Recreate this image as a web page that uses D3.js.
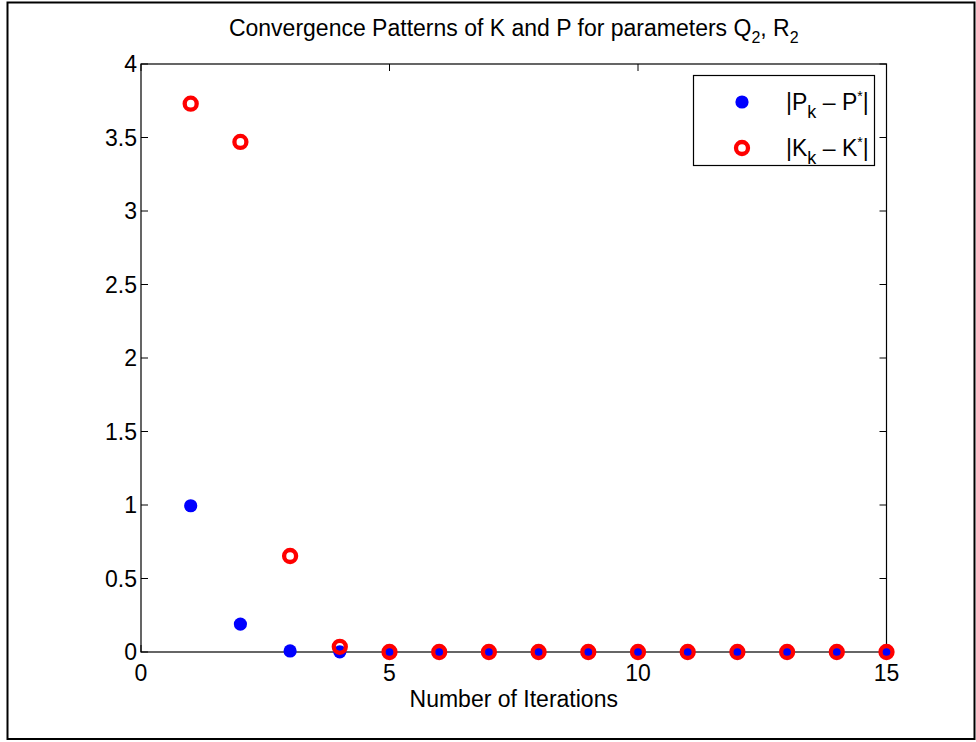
<!DOCTYPE html>
<html><head><meta charset="utf-8">
<script src="https://cdn.jsdelivr.net/npm/d3@7"></script>
<style>body{margin:0;background:#fff;} text{font-family:"Liberation Sans",Arial,Helvetica,sans-serif;fill:#000;}</style>
</head><body>
<script>
const iterations = [1,2,3,4,5,6,7,8,9,10,11,12,13,14,15];
const pError = [0.995,0.19,0.007,0.001,0,0,0,0,0,0,0,0,0,0,0];
const kError = [3.73,3.47,0.653,0.035,0,0,0,0,0,0,0,0,0,0,0];
const xTicks = [0,5,10,15];
const yTicks = [0,0.5,1,1.5,2,2.5,3,3.5,4];
const yTickLabels = ["0","0.5","1","1.5","2","2.5","3","3.5","4"];

const W=976,H=742;
const svg=d3.select("body").append("svg").attr("width",W).attr("height",H);
svg.append("rect").attr("x",7.5).attr("y",2.5).attr("width",967).attr("height",736.5)
  .attr("fill","#fff").attr("stroke","#000").attr("stroke-width",2);

const L=141,R=886.5,T=64,B=652;
const x=d3.scaleLinear().domain([0,15]).range([L,R]);
const y=d3.scaleLinear().domain([0,4]).range([B,T]);
const fs=23, tl=7;

const g=svg.append("g");
g.append("rect").attr("x",L).attr("y",T).attr("width",R-L).attr("height",B-T)
  .attr("fill","none").attr("stroke","#000").attr("stroke-width",1.2);
xTicks.forEach(t=>{
  g.append("line").attr("x1",x(t)).attr("x2",x(t)).attr("y1",B).attr("y2",B-tl).attr("stroke","#000");
  g.append("line").attr("x1",x(t)).attr("x2",x(t)).attr("y1",T).attr("y2",T+tl).attr("stroke","#000");
  g.append("text").attr("x",x(t)).attr("y",B+29).attr("text-anchor","middle").attr("font-size",fs).text(t);
});
yTicks.forEach((t,i)=>{
  g.append("line").attr("x1",L).attr("x2",L+tl).attr("y1",y(t)).attr("y2",y(t)).attr("stroke","#000");
  g.append("line").attr("x1",R).attr("x2",R-tl).attr("y1",y(t)).attr("y2",y(t)).attr("stroke","#000");
  g.append("text").attr("x",L-4).attr("y",y(t)+8).attr("text-anchor","end").attr("font-size",fs).text(yTickLabels[i]);
});
g.append("text").attr("x",(L+R)/2).attr("y",707).attr("text-anchor","middle").attr("font-size",fs).text("Number of Iterations");
const tt=g.append("text").attr("x",(L+R)/2).attr("y",36).attr("text-anchor","middle").attr("font-size",fs);
tt.append("tspan").text("Convergence Patterns of K and P for parameters Q");
tt.append("tspan").attr("dy",7).attr("font-size",16).text("2");
tt.append("tspan").attr("dy",-7).text(", R");
tt.append("tspan").attr("dy",7).attr("font-size",16).text("2");

g.selectAll(".p").data(iterations).enter().append("circle")
  .attr("cx",d=>x(d)).attr("cy",(d,i)=>y(pError[i])).attr("r",6.6).attr("fill","#0000ff");
g.selectAll(".k").data(iterations).enter().append("circle")
  .attr("cx",d=>x(d)).attr("cy",(d,i)=>y(kError[i])).attr("r",6).attr("fill","none")
  .attr("stroke","#ff0000").attr("stroke-width",4.3);

const lg=g.append("g");
lg.append("rect").attr("x",693.5).attr("y",75.5).attr("width",181).attr("height",90)
  .attr("fill","#fff").attr("stroke","#000").attr("stroke-width",1.2);
lg.append("circle").attr("cx",742).attr("cy",102).attr("r",6.6).attr("fill","#0000ff");
lg.append("circle").attr("cx",742).attr("cy",148).attr("r",6).attr("fill","none").attr("stroke","#ff0000").attr("stroke-width",4.3);
function legText(yy,letter){
  const t=lg.append("text").attr("x",786).attr("y",yy).attr("font-size",fs);
  t.append("tspan").text("|"+letter);
  t.append("tspan").attr("dy",8).attr("font-size",18).text("k");
  t.append("tspan").attr("dy",-8).text(" \u2013 "+letter);
  t.append("tspan").attr("dy",-9).attr("font-size",14).text("*");
  t.append("tspan").attr("dy",9).text("|");
}
legText(110,"P");
legText(156,"K");
</script>
</body></html>
